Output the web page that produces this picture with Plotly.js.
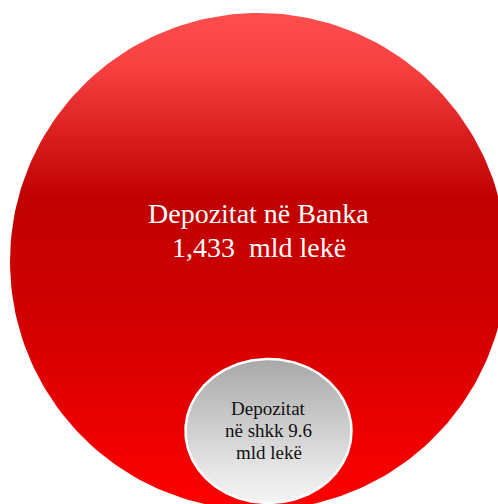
<!DOCTYPE html>
<html>
<head>
<meta charset="utf-8">
<script src="https://cdn.plot.ly/plotly-3.0.1.min.js"></script>
<style>html,body{margin:0;padding:0;background:#fff;}#chart{width:498px;height:504px;}</style>
</head>
<body>
<div id="chart"></div>
<script>
// ---- data ----
const categories = ["Depozitat në Banka", "Depozitat në shkk"];
const values = [1433, 9.6];
const unit = "mld lekë";

// ---- geometry / style (not data) ----
const W = 498, H = 504;
const bubbles = [
  {cx: 258.5, cy: 261.5, rx: 248.5, ry: 248.5,
   colorscale: [[0,'#FF4D4D'],[0.1,'#F84242'],[0.37,'#C00000'],[0.6,'#D00000'],[1,'#FF0000']],
   line: {width: 0, color: 'rgba(0,0,0,0)'},
   font: {family: 'Liberation Serif, Times New Roman, serif', size: 28, color: '#FFFFFF'},
   lineCenters: [213, 247]},
  {cx: 268.5, cy: 431, rx: 83, ry: 72,
   colorscale: [[0,'#A8A8A8'],[0.8,'#E8E8E8'],[1,'#F4F4F4']],
   line: {width: 2.5, color: '#FFFFFF'},
   font: {family: 'Liberation Serif, Times New Roman, serif', size: 19, color: '#111111'},
   lineCenters: [408, 430, 452]}
];

const nb = '\u00A0';
const textLines = [
  [categories[0], values[0].toLocaleString('en-US') + nb + nb + unit],
  [categories[1].split(' ')[0], categories[1].split(' ').slice(1).join(' ') + ' ' + values[1], unit]
];

const traces = [];
const annotations = [];
bubbles.forEach((b, i) => {
  const xs = [], ys = [];
  const N = 240;
  for (let k = 0; k <= N; k++) {
    const a = 2 * Math.PI * k / N;
    xs.push(b.cx + b.rx * Math.cos(a));
    ys.push(b.cy + b.ry * Math.sin(a));
  }
  traces.push({
    type: 'scatter', mode: 'lines', x: xs, y: ys,
    fill: 'toself',
    fillgradient: {type: 'vertical', colorscale: b.colorscale, start: b.cy - b.ry, stop: b.cy + b.ry},
    line: b.line, hoverinfo: 'skip', showlegend: false
  });
  textLines[i].forEach((t, j) => {
    annotations.push({
      x: b.cx, y: b.lineCenters[j], xref: 'x', yref: 'y',
      text: t, showarrow: false, xanchor: 'center', yanchor: 'middle',
      font: b.font
    });
  });
});

const layout = {
  width: W, height: H,
  margin: {l: 0, r: 0, t: 0, b: 0, pad: 0},
  paper_bgcolor: '#FFFFFF', plot_bgcolor: '#FFFFFF',
  xaxis: {range: [0, W], visible: false, fixedrange: true},
  yaxis: {range: [H, 0], visible: false, fixedrange: true},
  showlegend: false,
  annotations: annotations
};

Plotly.newPlot('chart', traces, layout, {displayModeBar: false, staticPlot: true});
</script>
</body>
</html>
